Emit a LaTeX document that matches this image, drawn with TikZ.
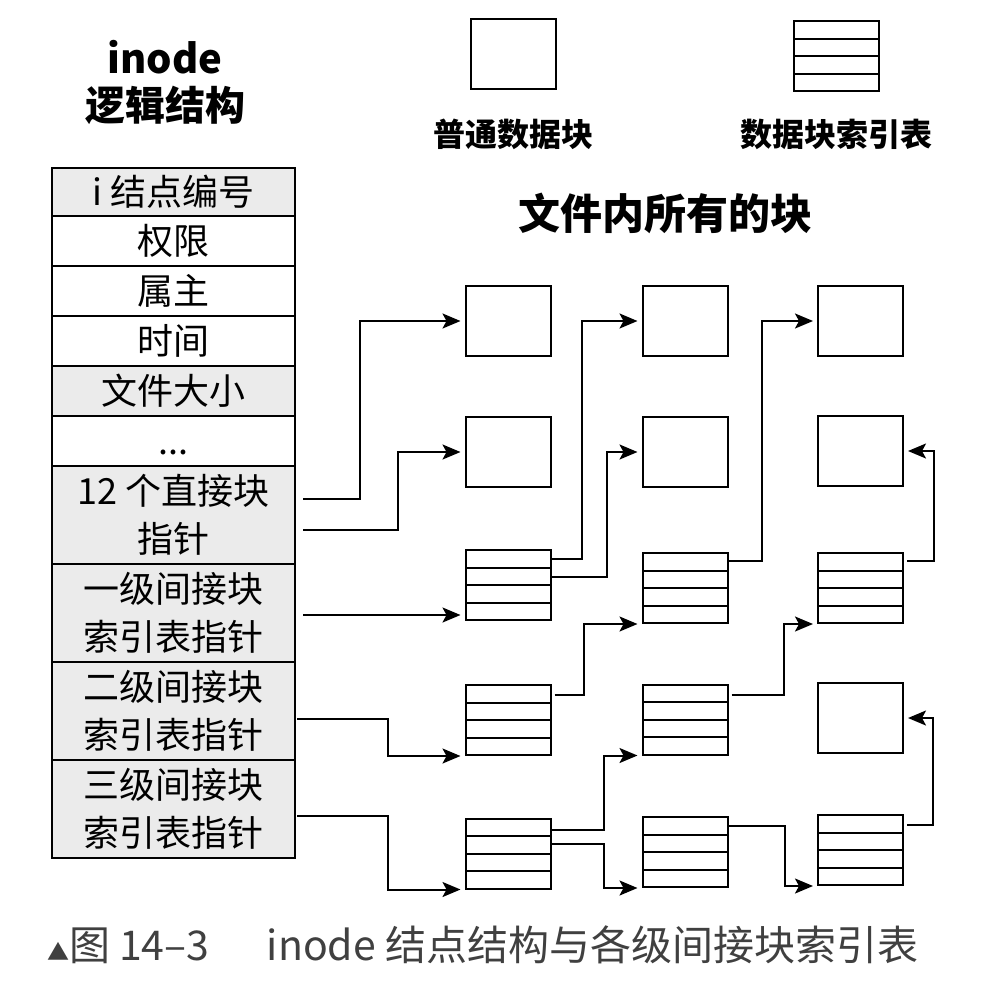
\documentclass[tikz,border=0pt]{standalone}
\usepackage{fontspec}
\setmainfont{Noto Sans CJK SC}
\usetikzlibrary{arrows.meta,positioning,calc}

\tikzset{
  cell/.style={draw, outer sep=0pt, inner sep=0pt, minimum width=121.5pt,
    align=center, font=\fontsize{18pt}{24pt}\selectfont},
  grey/.style={fill=black!8},
  blk/.style={draw, minimum width=42.5pt, minimum height=35pt, inner sep=0pt},
  idx/.style={blk, path picture={
      \foreach \k in {0.25,0.5,0.75}
        \draw ($(path picture bounding box.north west)!\k!(path picture bounding box.south west)$)
           -- ($(path picture bounding box.north east)!\k!(path picture bounding box.south east)$);}},
  lab/.style={inner sep=0pt, font=\fontsize{16pt}{16pt}\selectfont\bfseries},
  ptr/.style={-{Stealth[length=9pt,width=7.5pt,inset=2pt]}, shorten >=2pt},
}

\begin{document}
\begin{tikzpicture}[x=0.5pt, y=-0.5pt, line width=1pt]
  \useasboundingbox (0,0) rectangle (1006,986);

  % inode
  \node[align=center, font=\fontsize{20pt}{23.5pt}\selectfont\bfseries] (ttl) at (165,82) {inode\\逻辑结构};
  \node[cell, grey, minimum height=24pt] (r1) at (173.5,192) {i 结点编号};
  \node[cell, minimum height=25pt, below=0pt of r1] (r2) {权限};
  \node[cell, minimum height=25pt, below=0pt of r2] (r3) {属主};
  \node[cell, minimum height=25pt, below=0pt of r3] (r4) {时间};
  \node[cell, grey, minimum height=25pt, below=0pt of r4] (r5) {文件大小};
  \node[cell, minimum height=25pt, below=0pt of r5] (r6) {\vphantom{权}...};
  \node[cell, grey, minimum height=49pt, below=0pt of r6] (r7) {12 个直接块\\指针};
  \node[cell, grey, minimum height=49pt, below=0pt of r7] (r8) {一级间接块\\索引表指针};
  \node[cell, grey, minimum height=49pt, below=0pt of r8] (r9) {二级间接块\\索引表指针};
  \node[cell, grey, minimum height=49pt, below=0pt of r9] (r10) {三级间接块\\索引表指针};

  % legend
  \node[blk] (lg1) at (513.5,54) {};
  \node[idx] (lg2) at (836.5,56) {};
  \node[lab, below=14pt of lg1] (lb1) {普通数据块};
  \node[lab, below=13pt of lg2] (lb2) {数据块索引表};
  \node[font=\fontsize{21pt}{21pt}\selectfont\bfseries] (all) at (665,213) {文件内所有的块};

  % blocks
  \node[blk] (a1) at (508,321) {};
  \node[blk] (a2) at (685,321) {};
  \node[blk] (a3) at (860.5,321) {};
  \node[blk] (b1) at (508,452) {};
  \node[blk] (b2) at (685,452) {};
  \node[blk] (b3) at (860.5,451) {};
  \node[idx] (c1) at (508,585) {};
  \node[idx] (c2) at (685,588) {};
  \node[idx] (c3) at (860.5,588) {};
  \node[idx] (d1) at (508,720) {};
  \node[idx] (d2) at (685,719.5) {};
  \node[blk] (d3) at (860.5,718) {};
  \node[idx] (e1) at (508,853.5) {};
  \node[idx] (e2) at (685,852) {};
  \node[idx] (e3) at (860.5,850) {};

  % pointers
  \draw[ptr] ($(r7.east)+(8,-16)$) -- ++(57,0) |- (a1.west);
  \draw[ptr] ($(r7.east)+(8,15)$) -- ++(95,0) |- (b1.west);
  \draw[ptr] ($(r8.east)+(8,2)$) -- ($(r8.east -| c1.west)+(0,2)$);
  \draw[ptr] ($(r9.east)+(2,8)$) -- ++(91,0) |- (d1.south west);
  \draw[ptr] ($(r10.east)+(2,7)$) -- ++(91,0) |- (e1.south west);
  \draw[ptr] ($(c1.east)+(0,-26)$) -- ++(30,0) |- (a2.west);
  \draw[ptr] ($(c1.east)+(0,-8)$) -- ++(55,0) |- (b2.west);
  \draw[ptr] ($(c2.east)+(0,-27)$) -- ++(33,0) |- (a3.west);
  \draw[ptr] ($(c3.east)+(3,-27)$) -- ++(27,0) |- (b3.east);
  \draw[ptr] ($(d1.east)+(3,-25)$) -- ++(29,0) |- (c2.south west);
  \draw[ptr] ($(d2.east)+(3,-25)$) -- ++(52,0) |- (c3.south west);
  \draw[ptr] ($(e1.east)+(0,-24)$) -- ++(52,0) |- (d2.south west);
  \draw[ptr] ($(e1.east)+(0,-10)$) -- ++(52,0) |- (e2.south west);
  \draw[ptr] ($(e2.east)+(0,-26)$) -- ++(56,0) |- (e3.south west);
  \draw[ptr] ($(e3.east)+(3,-25)$) -- ++(26,0) |- (d3.east);

  % caption
  \node[anchor=west, inner sep=0pt, text=black!75, font=\fontsize{20.5pt}{20.5pt}\selectfont] (cap) at (46,945)
    {{\fontsize{11pt}{11pt}\selectfont ▲}图 14–3\hspace{1.4em}inode 结点结构与各级间接块索引表};
\end{tikzpicture}
\end{document}
